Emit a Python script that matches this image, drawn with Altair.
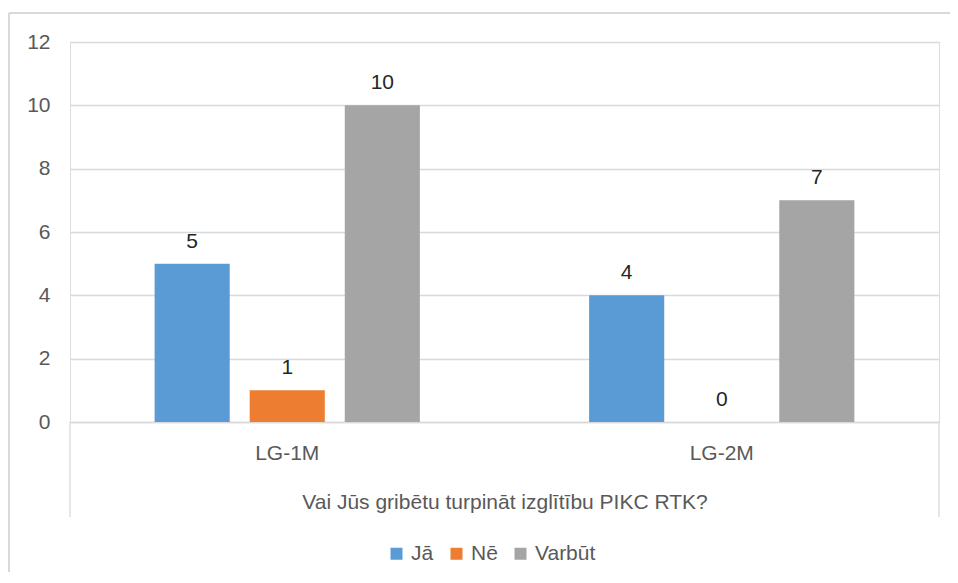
import altair as alt
import pandas as pd

categories = ["LG-1M", "LG-2M"]
series = ["Jā", "Nē", "Varbūt"]
values_ja = [5, 4]
values_ne = [1, 0]
values_varbut = [10, 7]
series_colors = ["#5B9BD5", "#ED7D31", "#A5A5A5"]
y_ticks = [0, 2, 4, 6, 8, 10, 12]
axis_title = "Vai Jūs gribētu turpināt izglītību PIKC RTK?"

rows = []
for i, c in enumerate(categories):
    for s, vals in zip(series, [values_ja, values_ne, values_varbut]):
        rows.append({"group": c, "series": s, "value": vals[i]})
df = pd.DataFrame(rows)

FONT = "Liberation Sans"
FS = 21
W, H = 869, 380
PAD = {"left": 62, "top": 34, "right": 11, "bottom": 150}

x_enc = alt.X("group:N", sort=categories,
              scale=alt.Scale(paddingInner=0, paddingOuter=0),
              axis=alt.Axis(title=axis_title, labelAngle=0, ticks=False,
                            domainColor="#D9D9D9", domainWidth=1.3,
                            labelFontSize=FS, labelColor="#595959", labelPadding=20,
                            titleFontSize=FS, titleColor="#595959", titleFontWeight="normal",
                            titlePadding=28, labelFont=FONT, titleFont=FONT))
xoff = alt.XOffset("series:N", sort=series,
                   scale=alt.Scale(paddingInner=0.21, paddingOuter=0.89))
y_enc = alt.Y("value:Q", scale=alt.Scale(domain=[0, 12], nice=False),
              axis=alt.Axis(values=y_ticks, title=None, domain=False, ticks=False,
                            gridColor="#D9D9D9", gridWidth=1.3,
                            labelFontSize=FS, labelColor="#595959", labelPadding=20,
                            labelFont=FONT))

base = alt.Chart(df)
bars = base.mark_bar().encode(
    x=x_enc, xOffset=xoff, y=y_enc,
    color=alt.Color("series:N", sort=series,
                    scale=alt.Scale(domain=series, range=series_colors),
                    legend=alt.Legend(title=None, orient="none", direction="horizontal",
                                      legendX=316, legendY=501,
                                      symbolType="square", symbolSize=144,
                                      symbolStrokeWidth=0, labelFontSize=FS,
                                      labelColor="#595959", labelOffset=4,
                                      columnPadding=12, labelFont=FONT)),
)
text = base.mark_text(baseline="bottom", dy=-12, fontSize=FS, color="#262626", font=FONT).encode(
    x=alt.X("group:N", sort=categories), xOffset=alt.XOffset("series:N", sort=series),
    y="value:Q", text="value:Q",
)

one = alt.Chart(pd.DataFrame({"k": [0]}))
left_rule = one.mark_rule(color="#D9D9D9", strokeWidth=1.3).encode(
    x=alt.value(0), y=alt.value(H), y2=alt.value(H + 95))
right_rule = one.mark_rule(color="#D9D9D9", strokeWidth=1.3).encode(
    x=alt.value(W), y=alt.value(H), y2=alt.value(H + 95))
frame_top = one.mark_rule(color="#D9D9D9", strokeWidth=2).encode(
    x=alt.value(-61), x2=alt.value(W + PAD["right"]), y=alt.value(-29))
frame_left = one.mark_rule(color="#D9D9D9", strokeWidth=2).encode(
    x=alt.value(-61), y=alt.value(-29), y2=alt.value(H + PAD["bottom"]))

chart = alt.layer(bars, text, left_rule, right_rule, frame_top, frame_left).properties(
    width=W, height=H,
    padding=PAD,
    autosize=alt.AutoSizeParams(type="none"),
    background="white",
).configure_view(stroke=None).configure(font=FONT)

chart.save("out.html", embed_options={"renderer": "svg", "actions": False})
